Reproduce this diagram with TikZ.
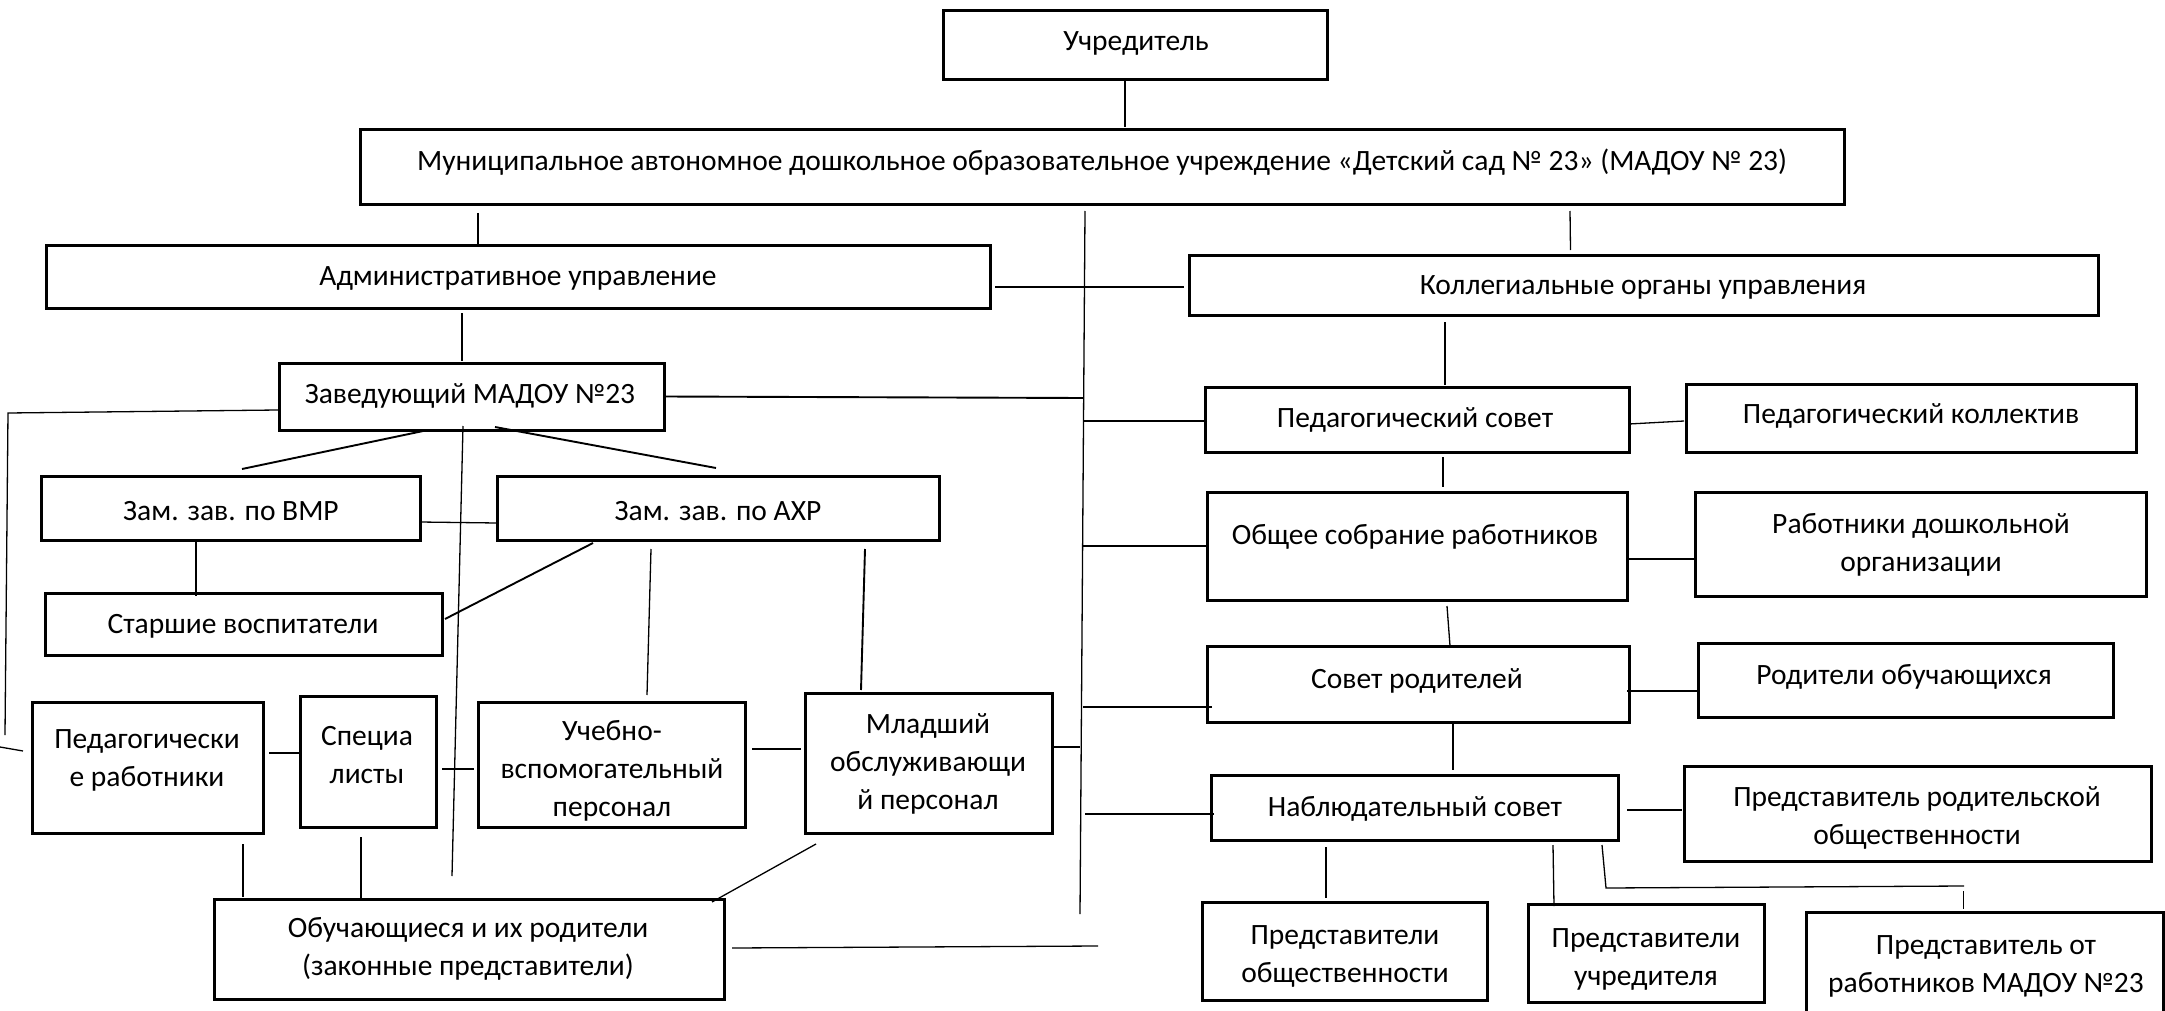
\documentclass[tikz,border=0pt]{standalone}
\usepackage{fontspec}
\setmainfont{Carlito}
\usetikzlibrary{calc}
\begin{document}
\begin{tikzpicture}[x=1pt,y=-1pt,
  box/.style={draw, line width=3pt, outer sep=0pt, inner sep=0pt},
  txt/.style={font=\fontsize{29.5}{38}\selectfont, align=center, inner sep=0pt, yshift=-3pt},
  ln/.style={line width=1.3pt},
  lnm/.style={line width=1.9pt},
  lnt/.style={line width=2.8pt}]
\fill[white] (0,0) rectangle (2165,1011);
\useasboundingbox (0,0) rectangle (2165,1011);
% boxes
\node[box, minimum width=384pt, minimum height=69pt] (U) at (1135,45.5) {};
\node[box, minimum width=1484pt, minimum height=75pt] (M) at (1102,167.5) {};
\node[box, minimum width=944pt, minimum height=63pt] (A) at (518,276.5) {};
\node[box, minimum width=909pt, minimum height=60pt] (K) at (1643.5,285) {};
\node[box, minimum width=385pt, minimum height=67pt] (Z) at (471.5,396.5) {};
\node[box, minimum width=379pt, minimum height=64pt] (V) at (230.5,508) {};
\node[box, minimum width=442pt, minimum height=64pt] (X) at (718,508) {};
\node[box, minimum width=397pt, minimum height=62pt] (S) at (243.5,624) {};
\node[box, minimum width=231pt, minimum height=131pt] (P) at (147.5,767.5) {};
\node[box, minimum width=136pt, minimum height=131pt] (Sp) at (368,761.5) {};
\node[box, minimum width=267pt, minimum height=125pt] (Uv) at (611.5,764.5) {};
\node[box, minimum width=247pt, minimum height=140pt] (Ml) at (928.5,763) {};
\node[box, minimum width=510pt, minimum height=100pt] (O) at (469,949) {};
\node[box, minimum width=424pt, minimum height=65pt] (PS) at (1417,419.5) {};
\node[box, minimum width=450pt, minimum height=68pt] (PK) at (1911,418) {};
\node[box, minimum width=420pt, minimum height=108pt] (OS) at (1417,546) {};
\node[box, minimum width=451pt, minimum height=104pt] (RD) at (1920.5,544) {};
\node[box, minimum width=422pt, minimum height=76pt] (SR) at (1418,684) {};
\node[box, minimum width=415pt, minimum height=74pt] (RO) at (1905.5,680) {};
\node[box, minimum width=407pt, minimum height=65pt] (NS) at (1414.5,807.5) {};
\node[box, minimum width=467pt, minimum height=95pt] (PRO) at (1917.5,813.5) {};
\node[box, minimum width=285pt, minimum height=98pt] (PO) at (1344.5,951) {};
\node[box, minimum width=236pt, minimum height=98pt] (PU) at (1646,953) {};
\node[box, minimum width=357pt, minimum height=118pt] (PR) at (1984.5,971) {};
% texts
\node[txt] (Ut) at (1136,40) {Учредитель};
\node[txt] (Mt) at (1102,159) {Муниципальное автономное дошкольное образовательное учреждение «Детский сад № 23» (МАДОУ № 23)};
\node[txt] (At) at (518,275) {Административное управление};
\node[txt] (Kt) at (1643,284) {Коллегиальные органы управления};
\node[txt] (Zt) at (470,393) {Заведующий МАДОУ №23};
\node[txt] (Vt) at (231,508) {Зам. зав. по ВМР};
\node[txt] (Xt) at (718,508) {Зам. зав. по АХР};
\node[txt] (St) at (243,623) {Старшие воспитатели};
\node[txt] (Pt) at (147,757) {Педагогически\\е работники};
\node[txt] (Spt) at (367,752) {Специа\\листы};
\node[txt] (Uvt) at (612,768) {Учебно-\\вспомогательный\\персонал};
\node[txt] (Mlt) at (928,761) {Младший\\обслуживающи\\й персонал};
\node[txt] (Ot) at (468,946) {Обучающиеся и их родители\\(законные представители)};
\node[txt] (PSt) at (1415,417) {Педагогический совет};
\node[txt] (PKt) at (1911,413) {Педагогический коллектив};
\node[txt] (OSt) at (1415,534) {Общее собрание работников};
\node[txt] (RDt) at (1921,542) {Работники дошкольной\\организации};
\node[txt] (SRt) at (1417,678) {Совет родителей};
\node[txt] (ROt) at (1904,674) {Родители обучающихся};
\node[txt] (NSt) at (1415,806) {Наблюдательный совет};
\node[txt] (PROt) at (1917,815) {Представитель родительской\\общественности};
\node[txt] (POt) at (1345,953) {Представители\\общественности};
\node[txt] (PUt) at (1646,956) {Представители\\учредителя};
\node[txt] (PRt) at (1986,963) {Представитель от\\работников МАДОУ №23};
% free coordinates
\coordinate (busT) at ($(M.south)+(-17,6)$);
\coordinate (busB) at (1080,914);
\coordinate (Lt) at (8,413);
\coordinate (Lb) at (5,735);
\coordinate (Lk) at (0,747);
% connectors left
\draw[ln] ($(U.south)+(-10,1)$) -- ($(M.north)+(23,-3)$);
\draw[ln] ($(M.south west)+(118,8)$) -- ($(A.north west)+(432,0)$);
\draw[ln] ($(M.south east)+(-274,6)$) -- ($(K.north)+(-73,-5)$);
\draw[ln] (busT) -- (busB);
\draw[ln] ($(A.east)+(5,10.5)$) -- ($(K.west)+(-5,2)$);
\draw[ln] ($(A.south)+(-56,5)$) -- ($(Z.north)+(-9.5,-2)$);
\draw[lnm] (Z.east) -- ++(419,1.5);
\draw[ln] ($(Z.west)+(-1,13.5)$) -- (Lt) -- (Lb);
\draw[ln] (Lk) -- ($(P.west)+(-9,-16.5)$);
\draw[lnm] ($(Z.south)+(-43.5,0)$) -- ($(V.north)+(11.5,-7)$);
\draw[lnm] ($(Z.south)+(23.5,-3)$) -- ($(X.north)+(-2,-8)$);
\draw[ln] ($(Z.south)+(-8.5,-4)$) -- ($(O.north)+(-17,-23)$);
\draw[ln] ($(V.east)+(0,14)$) -- ($(X.west)+(0,15)$);
\draw[ln] ($(V.south)+(-34.5,0)$) -- ($(S.north)+(-47.5,3)$);
\draw[lnm] ($(X.south)+(-125,3)$) -- ($(S.east)+(3,-5)$);
\draw[ln] ($(X.south)+(-67,9)$) -- ($(Uv.north)+(35.5,-7)$);
\draw[lnm] ($(X.south)+(147,9)$) -- ($(Ml.north)+(-67.5,-3)$);
\draw[lnt] ($(P.east)+(6,-14.5)$) -- ($(Sp.west)+(0,-8.5)$);
\draw[lnt] ($(Sp.east)+(6,7.5)$) -- ($(Uv.west)+(-4,4.5)$);
\draw[lnt] ($(Uv.east)+(7,-15.5)$) -- ($(Ml.west)+(-4,-14)$);
\draw[ln] ($(Ml.east)+(0,-16)$) -- ++(28,0);
\draw[ln] ($(P.south)+(95.5,11)$) -- ($(O.north west)+(29,-2)$);
\draw[lnm] ($(Sp.south)+(-7,10)$) -- ($(O.north west)+(147,0)$);
\draw[ln] ($(Ml.south)+(-112.5,11)$) -- ($(O.north east)+(-12,3)$);
\draw[ln] ($(O.east)+(8,-1)$) -- ++(366,-2);
% connectors right
\draw[ln] ($(K.south)+(-198.5,7)$) -- ($(PS.north)+(28,-2)$);
\draw[ln] ($(PS.west)+(2,1.5)$) -- ++(-124,0);
\draw[ln] ($(PS.east)+(0,4.5)$) -- ($(PK.west)+(-2,3)$);
\draw[ln] ($(PS.south)+(26,5)$) -- ($(OS.north)+(26,-5)$);
\draw[ln] (OS.west) -- ++(-124,0);
\draw[ln] ($(OS.east)+(0,13)$) -- ($(RD.west)+(0,15)$);
\draw[ln] ($(OS.south)+(30,6)$) -- ($(SR.north)+(32,0)$);
\draw[ln] ($(SR.west)+(5,23)$) -- ++(-129,0);
\draw[ln] ($(SR.east)+(-2,7)$) -- ($(RO.west)+(1,11)$);
\draw[ln] ($(SR.south)+(35,2)$) -- ($(NS.north)+(38.5,-5)$);
\draw[ln] ($(NS.west)+(3,6.5)$) -- ++(-129,0);
\draw[ln] ($(NS.east)+(9,2.5)$) -- ($(PRO.west)+(-2,-3.5)$);
\draw[ln] ($(NS.south)+(-88.5,7)$) -- ($(PO.north)+(-18.5,-4)$);
\draw[ln] ($(NS.south)+(138.5,5)$) -- ($(PU.north)+(-92,2)$);
\draw[ln] ($(NS.south)+(187.5,5)$) -- ++(4,43) -- ++(358,-2);
\draw[ln] ($(PR.north)+(-21,-21)$) -- ($(PR.north)+(-21,-3)$);
\end{tikzpicture}
\end{document}
